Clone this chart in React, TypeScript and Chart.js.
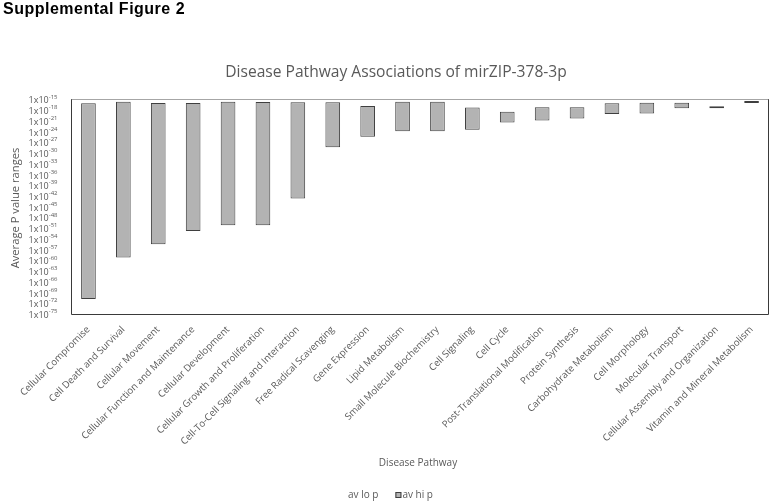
import React, { useEffect, useRef } from 'react';
import { Chart, registerables } from 'chart.js';

Chart.register(...registerables);

// ---- data (p values expressed as base-10 exponents) ----
const categories: string[] = [
  'Cellular Compromise',
  'Cell Death and Survival',
  'Cellular Movement',
  'Cellular Function and Maintenance',
  'Cellular Development',
  'Cellular Growth and Proliferation',
  'Cell-To-Cell Signaling and Interaction',
  'Free Radical Scavenging',
  'Gene Expression',
  'Lipid Metabolism',
  'Small Molecule Biochemistry',
  'Cell Signaling',
  'Cell Cycle',
  'Post-Translational Modification',
  'Protein Synthesis',
  'Carbohydrate Metabolism',
  'Cell Morphology',
  'Molecular Transport',
  'Cellular Assembly and Organization',
  'Vitamin and Mineral Metabolism',
];

// upper end of each range (largest p value)
const hiPExp: number[] = [
  -16.1, -15.7, -16.0, -16.0, -15.7, -15.75, -15.8, -15.8, -16.9, -15.7,
  -15.7, -17.3, -18.5, -17.2, -17.2, -16.1, -15.95, -15.95, -16.95, -15.45,
];

// lower end of each range (smallest p value)
const loPExp: number[] = [
  -70.8, -59.2, -55.5, -51.8, -50.2, -50.2, -42.7, -28.4, -25.5, -23.9,
  -23.9, -23.5, -21.5, -20.9, -20.4, -19.1, -19.0, -17.5, -17.5, -16.0,
];

const yTickExponents: number[] = [
  -15, -18, -21, -24, -27, -30, -33, -36, -39, -42, -45,
  -48, -51, -54, -57, -60, -63, -66, -69, -72, -75,
];

const seriesNames: string[] = ['av lo p', 'av hi p'];

const chartTitle = 'Disease Pathway Associations of mirZIP-378-3p';
const xTitle = 'Disease Pathway';
const yTitle = 'Average P value ranges';
const figureHeading = 'Supplemental Figure 2';

const FONT = '"Open Sans", "Liberation Sans", sans-serif';
const TEXT_COLOR = '#595959';
const BAR_FILL = '#b3b3b3';
const BAR_BORDER = '#3f3f3f';

const overlayPlugin = {
  id: 'overlayText',
  beforeDatasetsDraw(chart: any) {
    const { ctx, chartArea } = chart;
    const { left, right, top, bottom } = chartArea;
    ctx.save();
    ctx.lineWidth = 1;
    // top border (light)
    ctx.strokeStyle = '#a6a6a6';
    ctx.beginPath();
    ctx.moveTo(left, Math.round(top) + 0.5);
    ctx.lineTo(right, Math.round(top) + 0.5);
    ctx.stroke();
    // left, bottom, right borders (dark)
    ctx.strokeStyle = '#3a3a3a';
    ctx.beginPath();
    ctx.moveTo(Math.round(left) + 0.5, top);
    ctx.lineTo(Math.round(left) + 0.5, Math.round(bottom) + 0.5);
    ctx.lineTo(Math.round(right) - 0.5, Math.round(bottom) + 0.5);
    ctx.lineTo(Math.round(right) - 0.5, top);
    ctx.stroke();
    ctx.restore();
  },
  afterDraw(chart: any) {
    const { ctx } = chart;
    const yScale = chart.scales.y;
    ctx.save();
    ctx.fillStyle = TEXT_COLOR;

    // y tick labels 1x10^n
    const rightEdge = 57.5;
    yTickExponents.forEach((e) => {
      const y = yScale.getPixelForValue(e);
      const sup = String(e);
      ctx.font = `6px ${FONT}`;
      const supW = ctx.measureText(sup).width;
      ctx.textAlign = 'left';
      ctx.textBaseline = 'middle';
      ctx.fillText(sup, rightEdge - supW, y - 2.5);
      ctx.font = `9px ${FONT}`;
      ctx.textAlign = 'right';
      ctx.fillText('1x10', rightEdge - supW, y + 1.5);
    });

    // chart title
    ctx.font = `15.6px ${FONT}`;
    ctx.textAlign = 'center';
    ctx.textBaseline = 'middle';
    ctx.fillText(chartTitle, 396, 73);

    // x axis title
    ctx.font = `10px ${FONT}`;
    ctx.fillText(xTitle, 418, 463);

    // y axis title
    ctx.save();
    ctx.translate(16, 208);
    ctx.rotate(-Math.PI / 2);
    ctx.font = `11.2px ${FONT}`;
    ctx.fillText(yTitle, 0, 0);
    ctx.restore();

    // legend
    ctx.font = `10px ${FONT}`;
    ctx.textAlign = 'left';
    let x = 341;
    const ly = 495;
    chart.data.datasets.forEach((ds: any) => {
      const box = 6;
      if (ds.backgroundColor !== 'rgba(0,0,0,0)') {
        ctx.fillStyle = ds.backgroundColor;
        ctx.fillRect(x, ly - box / 2, box, box);
        ctx.strokeStyle = ds.borderColor;
        ctx.lineWidth = 1;
        ctx.strokeRect(x + 0.5, ly - box / 2 + 0.5, box - 1, box - 1);
      }
      x += box + 1;
      ctx.fillStyle = TEXT_COLOR;
      ctx.fillText(ds.label, x, ly);
      x += ctx.measureText(ds.label).width + 17;
    });
    ctx.restore();
  },
};

export default function App() {
  const canvasRef = useRef<HTMLCanvasElement | null>(null);

  useEffect(() => {
    if (!canvasRef.current) return;
    const chart = new Chart(canvasRef.current, {
      type: 'bar',
      data: {
        labels: categories,
        datasets: [
          {
            label: seriesNames[0],
            data: loPExp.map((v) => [v, v]) as any,
            backgroundColor: 'rgba(0,0,0,0)',
            borderColor: 'rgba(0,0,0,0)',
            borderWidth: 0,
            grouped: false,
            barPercentage: 0.42,
            categoryPercentage: 1,
          } as any,
          {
            label: seriesNames[1],
            data: categories.map((_, i) => [loPExp[i], hiPExp[i]]) as any,
            backgroundColor: BAR_FILL,
            borderColor: BAR_BORDER,
            borderWidth: 1,
            borderSkipped: false,
            grouped: false,
            barPercentage: 0.42,
            categoryPercentage: 1,
          } as any,
        ],
      },
      options: {
        responsive: false,
        animation: false,
        layout: { padding: { left: 0, right: 2, top: 99.3, bottom: 39 } },
        plugins: {
          legend: { display: false },
          title: { display: false },
          tooltip: { enabled: false },
        },
        scales: {
          x: {
            type: 'category',
            grid: { display: false, drawTicks: false },
            border: { display: false },
            ticks: {
              autoSkip: false,
              minRotation: 45,
              maxRotation: 45,
              padding: 10,
              color: TEXT_COLOR,
              font: { family: FONT, size: 9.6 },
            },
            afterFit: (s: any) => {
              s.height = 150;
            },
          },
          y: {
            type: 'linear',
            min: -75,
            max: -15,
            grid: { display: false, drawTicks: false },
            border: { display: false },
            ticks: { display: false, stepSize: 3 },
            afterFit: (s: any) => {
              s.width = 71;
            },
          },
        },
      } as any,
      plugins: [overlayPlugin],
    });
    return () => chart.destroy();
  }, []);

  return (
    <div style={{ position: 'absolute', left: 0, top: 0, width: 771, height: 503, background: '#fff' }}>
      <canvas ref={canvasRef} width={771} height={503} style={{ width: 771, height: 503, display: 'block' }} />
      <div
        style={{
          position: 'absolute',
          left: 3,
          top: 1,
          font: 'bold 16px/16px "Liberation Sans", Arial, sans-serif',
          letterSpacing: '0.5px',
          color: '#000',
          whiteSpace: 'nowrap',
        }}
      >
        {figureHeading}
      </div>
    </div>
  );
}
